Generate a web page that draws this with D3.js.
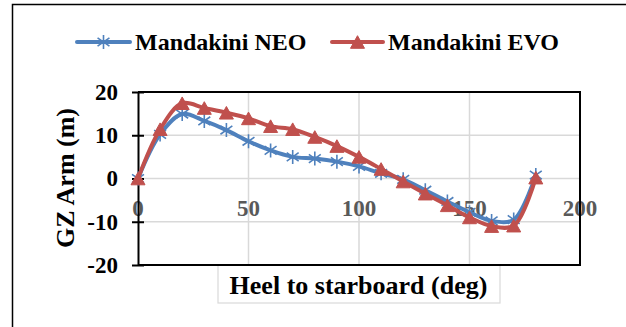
<!DOCTYPE html>
<html>
<head>
<meta charset="utf-8">
<script src="https://cdn.jsdelivr.net/npm/d3@7/dist/d3.min.js"></script>
<style>
  html, body { margin: 0; padding: 0; background: #fff; }
  svg { display: block; }
  text { font-family: "Times New Roman", "Liberation Serif", serif; font-weight: bold; }
</style>
</head>
<body>
<svg id="chart" width="626" height="327"></svg>
<script>
// Heel angle (deg) and righting arm GZ (m) for the two hull variants
const heel = [0, 10, 20, 30, 40, 50, 60, 70, 80, 90, 100, 110, 120, 130, 140, 150, 160, 170, 180];
const neo  = [0, 10.2, 14.9, 13.3, 11.2, 8.6, 6.5, 5.0, 4.6, 3.9, 2.8, 1.2, -0.2, -2.7, -5.3, -7.8, -9.8, -9.5, 0.8];
const evo  = [0, 11.4, 17.4, 16.3, 15.2, 13.9, 12.1, 11.4, 9.6, 7.5, 5.0, 2.2, -0.7, -3.5, -6.2, -9.0, -11.0, -10.9, 0.2];
const seriesNames = ["Mandakini NEO", "Mandakini EVO"];
const xTicks = [0, 50, 100, 150, 200];
const yTicks = [-20, -10, 0, 10, 20];

const svg = d3.select("#chart");
const blue = "#4F81BD", red = "#C0504D", grid = "#D9D9D9";

const plot = { left: 138, right: 580, top: 92, bottom: 265 };
const x = d3.scaleLinear().domain([0, 200]).range([plot.left, plot.right]);
const y = d3.scaleLinear().domain([-20, 20]).range([plot.bottom, plot.top]);

// outer chart border (left and top edges)
svg.append("path").attr("d", "M12.5,327 V4.5 H626")
  .attr("fill", "none").attr("stroke", "#000").attr("stroke-width", 1.5);

// gridlines
svg.append("g").selectAll("line").data(yTicks.filter(v => v > -20 && v < 20)).join("line")
  .attr("x1", plot.left).attr("x2", plot.right)
  .attr("y1", d => y(d)).attr("y2", d => y(d))
  .attr("stroke", grid).attr("stroke-width", 1.5);
svg.append("g").selectAll("line").data(xTicks.filter(v => v > 0 && v < 200)).join("line")
  .attr("x1", d => x(d)).attr("x2", d => x(d))
  .attr("y1", plot.top).attr("y2", plot.bottom)
  .attr("stroke", grid).attr("stroke-width", 1.5);

// x tick labels sit just under the zero line
svg.append("g").selectAll("text").data(xTicks).join("text")
  .attr("x", d => x(d)).attr("y", y(0) + 37)
  .attr("text-anchor", "middle").attr("font-size", 23).attr("fill", "#595959")
  .text(d => d);

// x axis title with its light box
svg.append("rect").attr("x", 218).attr("y", plot.bottom).attr("width", 282).attr("height", 38)
  .attr("fill", "#fff").attr("stroke", grid).attr("stroke-width", 1.2);
svg.append("text").attr("x", 358.5).attr("y", 293.5).attr("text-anchor", "middle")
  .attr("font-size", 26).attr("fill", "#000").text("Heel to starboard (deg)");

// frame: top, right, bottom
svg.append("path")
  .attr("d", `M${plot.left},${plot.top} H${plot.right} V${plot.bottom} H${plot.left}`)
  .attr("fill", "none").attr("stroke", "#000").attr("stroke-width", 2);

// y axis with cross ticks
const yAxis = d3.axisLeft(y).tickValues(yTicks).tickFormat(d => String(d)).tickSize(0).tickPadding(20);
const gy = svg.append("g").attr("transform", `translate(${plot.left},0)`).call(yAxis);
gy.select(".domain").attr("stroke", "#000").attr("stroke-width", 2);
gy.selectAll(".tick text").attr("font-size", 23).attr("fill", "#000")
  .attr("font-family", "'Times New Roman', 'Liberation Serif', serif").attr("font-weight", "bold");
gy.selectAll(".tick").append("line")
  .attr("x1", -6).attr("x2", 6).attr("stroke", "#000").attr("stroke-width", 2);

// y axis title
svg.append("text").attr("transform", "translate(74,178) rotate(-90)")
  .attr("text-anchor", "middle").attr("font-size", 26).attr("fill", "#000").text("GZ Arm (m)");

// markers
function star(g, cx, cy, r, color) {
  const p = d3.path();
  p.moveTo(cx, cy - r); p.lineTo(cx, cy + r);
  const dx = r * 0.85, dy = r * 0.6;
  p.moveTo(cx - dx, cy - dy); p.lineTo(cx + dx, cy + dy);
  p.moveTo(cx - dx, cy + dy); p.lineTo(cx + dx, cy - dy);
  g.append("path").attr("d", p.toString()).attr("stroke", color)
    .attr("stroke-width", 1.6).attr("fill", "none");
}
function tri(g, cx, cy, w, color) {
  const h = w * 0.9;
  g.append("path")
    .attr("d", `M${cx},${cy - h / 2} L${cx + w / 2},${cy + h / 2} L${cx - w / 2},${cy + h / 2} Z`)
    .attr("fill", color).attr("stroke", color).attr("stroke-width", 1);
}

const line = d3.line().x(d => x(d[0])).y(d => y(d[1])).curve(d3.curveCatmullRom.alpha(0.5));

// NEO series
const gNeo = svg.append("g");
gNeo.append("path").datum(heel.map((h, i) => [h, neo[i]])).attr("d", line)
  .attr("fill", "none").attr("stroke", blue).attr("stroke-width", 4);
heel.forEach((h, i) => star(gNeo, x(h), y(neo[i]), 7, blue));

// EVO series
const gEvo = svg.append("g");
gEvo.append("path").datum(heel.map((h, i) => [h, evo[i]])).attr("d", line)
  .attr("fill", "none").attr("stroke", red).attr("stroke-width", 4);
heel.forEach((h, i) => tri(gEvo, x(h), y(evo[i]), 14, red));

// legend
const leg = svg.append("g");
const legY = 42;
[[77, 130, blue, 0], [332, 383, red, 1]].forEach(([x1, x2, c, k]) => {
  leg.append("line").attr("x1", x1).attr("x2", x2).attr("y1", legY).attr("y2", legY)
    .attr("stroke", c).attr("stroke-width", 4).attr("stroke-linecap", "round");
  if (k === 0) star(leg, (x1 + x2) / 2, legY, 7, c); else tri(leg, (x1 + x2) / 2, legY, 14, c);
  leg.append("text").attr("x", x2 + 5).attr("y", legY + 8).attr("font-size", 24)
    .attr("fill", "#000").text(seriesNames[k]);
});
</script>
</body>
</html>
